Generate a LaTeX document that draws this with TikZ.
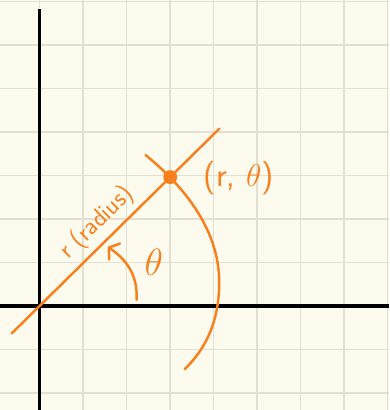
\documentclass[tikz,border=0pt]{standalone}
\usepackage{amsmath,amssymb}
\usepackage{tikz}
\usetikzlibrary{calc,arrows.meta}

\begin{document}
\begin{tikzpicture}[
    every node/.style={font=\sffamily},
    pen/.style={penorange, line width=1.6pt, line cap=round},
  ]
    \pgfmathsetmacro{\Ang}{44.6}
    \pgfmathsetmacro{\Rad}{4.22}
    \definecolor{paper}{HTML}{FDFBEE}
    \definecolor{gridline}{HTML}{E3E0D3}
    \definecolor{penorange}{HTML}{F97F1C}

    % ============ paper and grid ============
    \fill[paper] (-0.908,-2.39) rectangle (8.034,7.034);
    \useasboundingbox (-0.908,-2.39) rectangle (8.034,7.034);
    \foreach \i in {-1,...,8}{
      \draw[gridline, line width=0.9pt] (\i,-2.39) -- (\i,7.034);
    }
    \foreach \j in {-2,...,7}{
      \draw[gridline, line width=0.9pt] (-0.908,\j) -- (8.034,\j);
    }

    % ============ axes ============
    \draw[black, line width=2pt] (-0.908,0) -- (8.034,0);
    \draw[black, line width=2pt] (0,-2.39) -- (0,6.83);

    % ============ ray and point ============
    \coordinate (O) at (0,0);
    \coordinate (P) at (\Ang:\Rad);
    \coordinate (rayS) at (\Ang+180:0.9);
    \coordinate (rayE) at (\Ang:5.8);
    \draw[pen] (rayS) -- (rayE)
      node[pos=0.475, sloped, above=0pt, penorange, font=\sffamily\fontsize{16.5}{18}\selectfont] (rlabel) {r (radius)};
    \fill[penorange] (P) circle (0.16);
    \node[penorange, font=\sffamily\fontsize{22}{26}\selectfont] (Plabel) at (4.58,2.94) {(r, $\theta$)};

    % ============ arc through the point ============
    \coordinate (arcS) at (2.44,3.47);
    \coordinate (arcM) at (4.13,0.5);
    \coordinate (arcE) at (3.34,-1.45);
    \draw[pen] (arcS) .. controls (3.5,2.6) and (4.15,1.6) .. (arcM)
      .. controls (4.12,-0.4) and (3.8,-1.0) .. (arcE);

    % ============ angle ============
    \coordinate (angS) at (2.23,0.14);
    \coordinate (angE) at (1.57,1.36);
    \draw[pen, -{Straight Barb[length=1.6mm, width=4.4mm, round]}]
      (angS) .. controls (2.27,0.75) and (1.95,1.1) .. (angE);
    \node[penorange, font=\fontsize{24}{28}\selectfont] (thlabel) at (2.63,1.01) {$\theta$};
  \end{tikzpicture}
\end{document}
